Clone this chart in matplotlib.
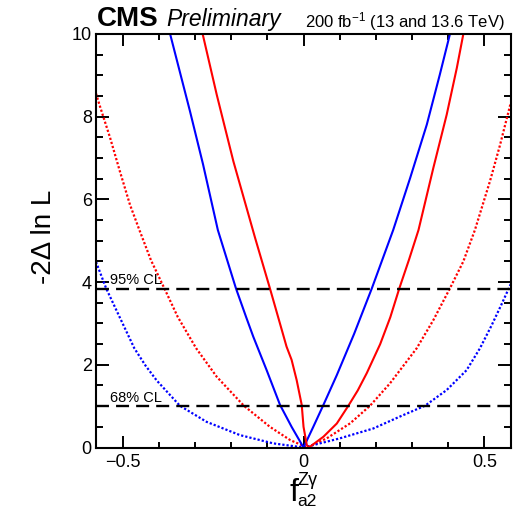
import matplotlib
matplotlib.use('Agg')
import matplotlib.pyplot as plt
from matplotlib.ticker import MultipleLocator

plt.rcParams['font.family'] = 'Liberation Sans'
plt.rcParams['mathtext.fontset'] = 'custom'
plt.rcParams['mathtext.rm'] = 'Liberation Sans'
plt.rcParams['mathtext.it'] = 'Liberation Sans:italic'
plt.rcParams['mathtext.bf'] = 'Liberation Sans:bold'
plt.rcParams['axes.unicode_minus'] = True

# curvas de -2 Delta ln L
blue_solid_f = [-0.369, -0.314, -0.278, -0.237, -0.187, -0.159, -0.139, -0.102, -0.065, -0.033,
                0.0, 0.027, 0.055, 0.092, 0.140, 0.189, 0.248, 0.295, 0.341, 0.377, 0.405]
blue_solid_y = [10.0, 8.13, 6.85, 5.26, 3.85, 3.16, 2.68, 1.87, 1.03, 0.50,
                0.0, 0.50, 1.03, 1.75, 2.75, 3.85, 5.26, 6.52, 7.81, 9.02, 10.0]

red_solid_f = [-0.279, -0.240, -0.194, -0.134, -0.093, -0.060, -0.047, -0.033, -0.019, -0.005,
               0.0, 0.009, 0.015, 0.055, 0.092, 0.124, 0.150, 0.175, 0.212, 0.240, 0.265,
               0.292, 0.318, 0.359, 0.396, 0.424, 0.442]
red_solid_y = [10.0, 8.53, 6.92, 5.07, 3.85, 2.84, 2.44, 2.12, 1.63, 1.03,
               0.50, 0.06, 0.0, 0.26, 0.58, 1.01, 1.38, 1.80, 2.50, 3.15, 3.85,
               4.55, 5.26, 6.76, 8.05, 9.18, 10.0]

red_dot_f = [-0.574, -0.563, -0.535, -0.508, -0.480, -0.454, -0.422, -0.385, -0.348, -0.297,
             -0.240, -0.165, -0.093, -0.037, 0.01, 0.064, 0.129, 0.184, 0.239, 0.313,
             0.359, 0.405, 0.442, 0.474, 0.516, 0.543, 0.573]
red_dot_y = [8.56, 8.25, 7.49, 6.68, 5.87, 5.26, 4.53, 3.85, 3.16, 2.40,
             1.71, 1.01, 0.50, 0.18, 0.0, 0.22, 0.585, 1.01, 1.55, 2.40,
             3.08, 3.85, 4.50, 5.26, 6.45, 7.30, 8.33]

blue_dot_f = [-0.574, -0.546, -0.509, -0.468, -0.437, -0.406, -0.342, -0.268, -0.176, -0.084, 0.0,
              0.10, 0.193, 0.267, 0.336, 0.396, 0.451, 0.488, 0.520, 0.547, 0.573]
blue_dot_y = [4.49, 3.85, 3.16, 2.40, 1.98, 1.62, 1.01, 0.62, 0.30, 0.10, 0.0,
              0.22, 0.46, 0.75, 1.01, 1.39, 1.87, 2.40, 2.95, 3.45, 3.95]

cl_levels = [3.84, 1.0]
cl_labels = ['95% CL', '68% CL']

fig = plt.figure(figsize=(5.27, 5.12), dpi=100)
ax = fig.add_axes([96 / 527, 1 - 447.5 / 512, 414.7 / 527, 413.5 / 512])

ax.plot(red_dot_f, red_dot_y, color='red', lw=1.6, linestyle=(0, (1, 0.9)))
ax.plot(blue_dot_f, blue_dot_y, color='blue', lw=1.6, linestyle=(0, (1, 0.9)))
ax.plot(blue_solid_f, blue_solid_y, color='blue', lw=1.5)
ax.plot(red_solid_f, red_solid_y, color='red', lw=1.5)

for lev, lab in zip(cl_levels, cl_labels):
    ax.axhline(lev, color='black', lw=1.7, linestyle=(0, (5.5, 3)), zorder=5)
    ax.text(-0.536, lev + 0.2, lab, fontsize=10.5, va='center', ha='left')

ax.set_xlim(-0.574, 0.573)
ax.set_ylim(0, 10)
ax.xaxis.set_minor_locator(MultipleLocator(0.1))
ax.yaxis.set_major_locator(MultipleLocator(2))
ax.yaxis.set_minor_locator(MultipleLocator(0.5))
ax.set_xticks([-0.5, 0, 0.5])
ax.set_xticklabels(['\u22120.5', '0', '0.5'])

ax.tick_params(which='both', direction='in', top=True, right=True, width=1.4)
ax.tick_params(axis='x', which='major', length=8.6, labelsize=13, pad=5)
ax.tick_params(axis='x', which='minor', length=4.2)
ax.tick_params(axis='y', which='major', length=9.5, labelsize=13, pad=3)
ax.tick_params(axis='y', which='minor', length=4.7)
for s in ax.spines.values():
    s.set_linewidth(1.5)

ax.set_ylabel('-2\u0394 ln L', fontsize=20)
ax.yaxis.set_label_coords(-0.095, 0.51)

# rotulo do eixo x: f com sub/superescrito
ax.set_xlabel('f', fontsize=23)
ax.xaxis.set_label_coords(0.478, -0.130)
ax.xaxis.label.set_va('baseline')
ax.text(0.486, -0.091, 'Z\u03b3', transform=ax.transAxes, fontsize=13, va='baseline', ha='left')
ax.text(0.486, -0.141, 'a2', transform=ax.transAxes, fontsize=12.5, va='baseline', ha='left')

ax.text(0.002, 1.02, 'CMS', transform=ax.transAxes, fontsize=20, fontweight='bold',
        va='baseline', ha='left')
ax.text(0.170, 1.02, 'Preliminary', transform=ax.transAxes, fontsize=16.5, style='italic',
        va='baseline', ha='left')
ax.text(0.986, 1.016, r'200 fb$^{-1}$ (13 and 13.6 TeV)', transform=ax.transAxes,
        fontsize=12, va='baseline', ha='right')

fig.savefig('out.png', dpi=100)
